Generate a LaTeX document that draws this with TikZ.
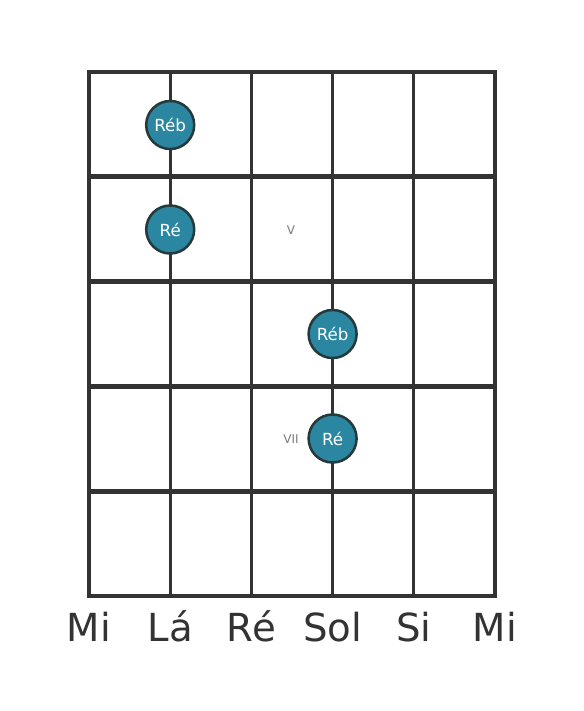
\documentclass[tikz,border=0pt]{standalone}
\usepackage{fontspec}
\setmainfont{DejaVu Sans}
\definecolor{gridgray}{HTML}{333333}
\definecolor{noteteal}{HTML}{2B87A1}
\definecolor{noterim}{HTML}{263A3C}
\definecolor{posgray}{HTML}{7A7A7A}
\tikzset{
  fretline/.style={draw=gridgray, line width=3.7pt, line cap=rect},
  stringline/.style={draw=gridgray, line width=2.3pt},
  notedot/.style={circle, fill=noteteal, draw=noterim, line width=1.9pt,
    minimum size=36pt, inner sep=0pt, text=white,
    font=\fontsize{12.5}{14}\selectfont},
  poslabel/.style={text=posgray, font=\fontsize{9}{11}\selectfont},
  stringname/.style={anchor=base, text=gridgray, font=\fontsize{29}{34}\selectfont}
}
\begin{document}
\begin{tikzpicture}[x=0.75pt, y=-0.75pt]
  \useasboundingbox (0, 0) rectangle (584, 711);

  % grid corners
  \foreach \i in {0,...,5} {
    \coordinate (top\i) at (89+\i*81.2, 72);
    \coordinate (bot\i) at (89+\i*81.2, 596);
    \coordinate (left\i) at (89, 72+\i*104.8);
    \coordinate (right\i) at (495, 72+\i*104.8);
  }

  \foreach \i in {0,...,5} \draw[fretline] (left\i) -- (right\i);
  \foreach \i in {0,...,5} \draw[stringline] (top\i) -- (bot\i);

  % notes
  \node[notedot] (reb1) at (170.2, 125) {Réb};
  \node[notedot] (re1) at (170.2, 229.5) {Ré};
  \node[notedot] (reb2) at (332.6, 334) {Réb};
  \node[notedot] (re2) at (332.6, 438.5) {Ré};

  % fret positions
  \node[poslabel] (posv) at (291, 230) {V};
  \node[poslabel] (posvii) at (291, 439) {VII};

  % string names
  \node[stringname] (mi1) at (89, 641) {Mi};
  \node[stringname] (la) at (170.2, 641) {Lá};
  \node[stringname] (re) at (251.4, 641) {Ré};
  \node[stringname] (sol) at (332.6, 641) {Sol};
  \node[stringname] (si) at (413.8, 641) {Si};
  \node[stringname] (mi2) at (495, 641) {Mi};
\end{tikzpicture}
\end{document}
